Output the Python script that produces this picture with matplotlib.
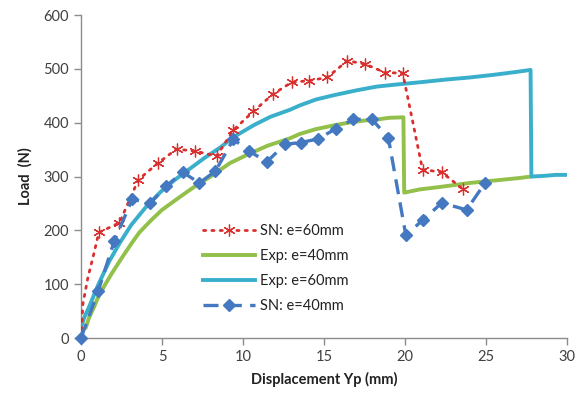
import numpy as np
import matplotlib
matplotlib.use("Agg")
import matplotlib.pyplot as plt

plt.rcParams['font.family'] = ['Lato', 'DejaVu Sans']

# SN: e=60mm (simulation, red dotted with stars)
sn60_x = [0, 0.12, 0.43, 0.74, 1.1, 2.37, 3.54, 4.75, 5.9, 7.06, 8.37, 9.4, 10.64, 11.85,
          13.0, 14.07, 15.2, 16.44, 17.53, 18.77, 19.86, 21.08, 22.26, 23.6]
sn60_y = [0, 64, 113, 150, 196, 214, 294, 325, 351, 347, 338, 386, 421, 453,
          475, 478, 484, 515, 509, 493, 492, 313, 308, 276]

# Exp: e=40mm (green)
exp40_x = [0.3, 0.5, 0.84, 1.0, 1.5, 1.9, 2.5, 3.1, 3.6, 4.3, 5.0, 6.1, 7.0, 8.0, 9.2, 10.3,
           11.5, 12.9, 13.5, 14.5, 15.6, 16.5, 17.5, 18.3, 19.0, 19.9, 19.95, 20.9, 22, 23,
           24, 25, 26, 27, 27.8]
exp40_y = [20, 38, 60, 72, 100, 120, 148, 175, 196, 218, 238, 262, 281, 300, 325, 341,
           357, 371, 379, 388, 395, 400, 404, 406, 409, 410, 270, 276, 280, 284,
           288, 291, 294, 297, 300]

# Exp: e=60mm (cyan)
exp60_x = [0.0, 0.2, 0.53, 1.05, 1.5, 1.77, 2.4, 3.1, 4.0, 4.9, 5.8, 6.7, 7.6, 8.6, 9.4, 10.7,
           11.7, 12.9, 13.5, 14.5, 15.6, 17, 18.25, 19.5, 20.9, 22.5, 24, 25.5, 26.8, 27.75,
           27.8, 28.5, 29.3, 29.9]
exp60_y = [20, 38, 60, 98, 127, 144, 177, 210, 243, 271, 294, 314, 334, 354, 373, 396,
           411, 424, 432, 443, 451, 460, 467, 471, 475, 480, 484, 489, 494, 498,
           300, 301, 303, 303]

# SN: e=40mm (simulation, blue dashed with diamonds)
sn40_x = [0, 1.07, 2.06, 3.17, 4.26, 5.25, 6.28, 7.3, 8.3, 9.4, 10.35, 11.46, 12.6, 13.56,
          14.65, 15.74, 16.8, 17.94, 18.97, 20.05, 21.13, 22.27, 23.8, 24.94]
sn40_y = [0, 88, 181, 258, 250, 282, 308, 288, 310, 369, 348, 327, 360, 363,
          370, 389, 406, 407, 372, 191, 220, 251, 238, 288]

fig = plt.figure(figsize=(5.77, 3.95), dpi=100)
ax = fig.add_axes([0.1404, 0.1443, 0.8423, 0.8177])

ax.plot(sn60_x, sn60_y, color='#D8302E', linewidth=2.0, dashes=(0.8, 2.2),
        dash_capstyle='round', marker=(6, 2, 0), markersize=8.5, markeredgewidth=0.9,
        markevery=list(range(4, len(sn60_x))), label='SN: e=60mm', zorder=3)
ax.plot(exp40_x, exp40_y, color='#92C04A', linewidth=2.8, label='Exp: e=40mm', zorder=2)
ax.plot(exp60_x, exp60_y, color='#3AAFCB', linewidth=2.8, label='Exp: e=60mm', zorder=2)
ax.plot(sn40_x, sn40_y, color='#4479C1', linewidth=2.4, dashes=(4.5, 2.5),
        marker='D', markersize=6.5, label='SN: e=40mm', zorder=4, clip_on=False)

ax.set_xlim(0, 30)
ax.set_ylim(0, 600)
ax.set_xticks(np.arange(0, 31, 5))
ax.set_yticks(np.arange(0, 601, 100))

for s in ['top', 'right']:
    ax.spines[s].set_visible(False)
for s in ['left', 'bottom']:
    ax.spines[s].set_color('#8C8C8C')
    ax.spines[s].set_linewidth(1.0)
ax.tick_params(colors='#8C8C8C', labelcolor='#404040', labelsize=10.5, length=5, width=1)

ax.set_xlabel('Displacement Yp (mm)', fontsize=10.5, fontweight='bold', color='#222222', labelpad=6)
ax.set_ylabel('Load  (N)', fontsize=10.5, fontweight='bold', color='#222222', labelpad=8)

ax.legend(loc='center left', bbox_to_anchor=(0.225, 0.215), frameon=False, fontsize=10.5,
          handlelength=3.5, labelspacing=0.75, handletextpad=0.4, labelcolor='#222222')

fig.savefig('out.png', dpi=100)
